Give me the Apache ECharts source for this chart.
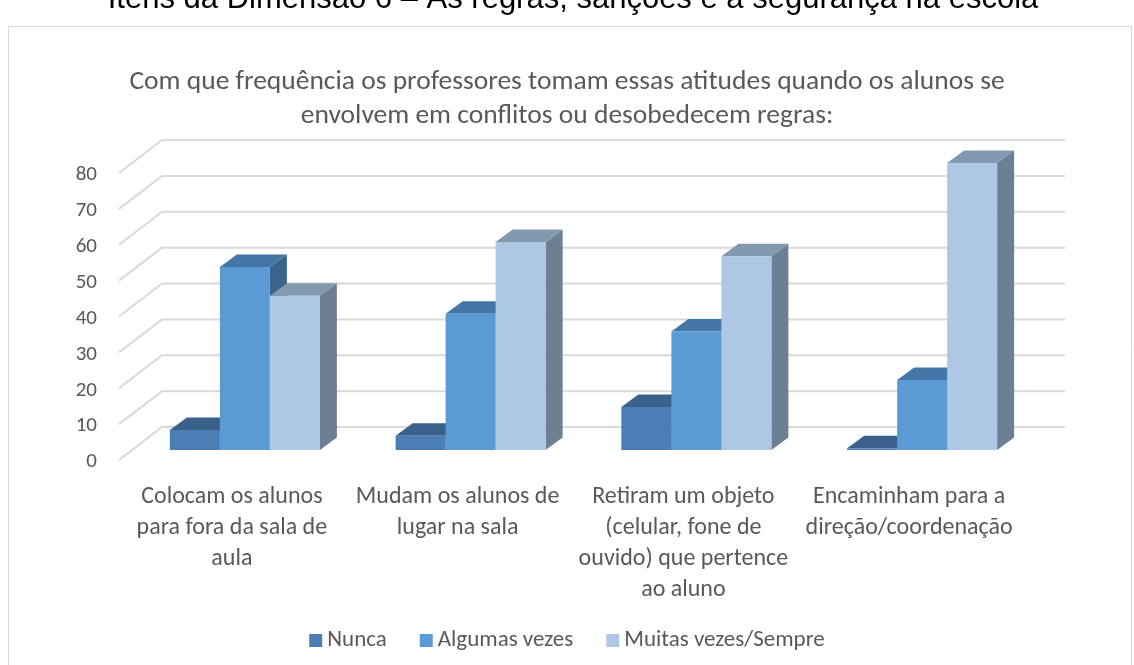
<!DOCTYPE html>
<html>
<head>
<meta charset="utf-8">
<title>Atitudes dos professores</title>
<script src="https://cdn.jsdelivr.net/npm/echarts@6/dist/echarts.min.js"></script>
<style>
  html, body { margin: 0; padding: 0; background: #fff; }
  #main { width: 1134px; height: 665px; }
</style>
</head>
<body>
<div id="main"></div>
<script>
// dados
var categories = [
  'Colocam os alunos\npara fora da sala de\naula',
  'Mudam os alunos de\nlugar na sala',
  'Retiram um objeto\n(celular, fone de\nouvido) que pertence\nao aluno',
  'Encaminham para a\ndireção/coordenação'
];
var seriesNames = ['Nunca', 'Algumas vezes', 'Muitas vezes/Sempre'];
var nunca = [5.6, 4, 12, 0.5];
var algumas = [51, 38, 33, 19.5];
var muitas = [43, 58, 54, 80];
var yTicks = [0, 10, 20, 30, 40, 50, 60, 70, 80];

var colors = [
  { front: '#4a7eb4', top: '#39618a', side: '#2f5075' },
  { front: '#5b9bd5', top: '#4577a6', side: '#3a648b' },
  { front: '#aec7e5', top: '#8399b0', side: '#6d7f92' }
];
var font = 'Carlito, Lato, sans-serif';
var textColor = '#595959';

// profundidade do efeito 3D (px)
var barDx = 17, barDy = -12.5;   // profundidade da barra
var frontDx = -13, frontDy = 10; // borda da frente do piso
var backDx = 30, backDy = -23;   // parede do fundo

function barItem(k) {
  return function (params, api) {
    var cat = api.value(0);
    var base = api.coord([cat, 0]);
    var top = api.coord([cat, api.value(1)]);
    var band = api.size([1, 0])[0];
    var w = band * 0.2215;
    var x0 = base[0] + (k - 1.5) * w;
    var x1 = x0 + w;
    var y0 = base[1], y1 = top[1];
    var c = colors[k];
    return {
      type: 'group',
      children: [
        { type: 'polygon', shape: { points: [[x1, y0], [x1 + barDx, y0 + barDy], [x1 + barDx, y1 + barDy], [x1, y1]] }, style: { fill: c.side } },
        { type: 'polygon', shape: { points: [[x0, y1], [x1, y1], [x1 + barDx, y1 + barDy], [x0 + barDx, y1 + barDy]] }, style: { fill: c.top } },
        { type: 'rect', shape: { x: x0, y: y1, width: w, height: y0 - y1 }, style: { fill: c.front } }
      ]
    };
  };
}

function wallItem(params, api) {
  var y = api.coord([0, api.value(1)])[1];
  var xl = params.coordSys.x, xr = params.coordSys.x + params.coordSys.width;
  return {
    type: 'polyline',
    shape: { points: [[xl + frontDx, y + frontDy], [xl + backDx, y + backDy], [xr + backDx, y + backDy]] },
    style: { stroke: '#d9d9d9', lineWidth: 2, fill: null }
  };
}

var chartDom = document.getElementById('main');
var myChart = echarts.init(chartDom);

var seriesData = [nunca, algumas, muitas];
var series = [{
  type: 'custom',
  silent: true,
  z: 1,
  renderItem: wallItem,
  data: yTicks.map(function (v) { return [0, v]; })
}];
seriesData.forEach(function (vals, k) {
  series.push({
    name: seriesNames[k],
    type: 'custom',
    silent: true,
    z: 2,
    itemStyle: { color: colors[k].front },
    renderItem: barItem(k),
    encode: { x: 0, y: 1 },
    data: vals.map(function (v, i) { return [i, v]; })
  });
});

var option = {
  animation: false,
  title: {
    text: 'Com que frequência os professores tomam essas atitudes quando os alunos se\nenvolvem em conflitos ou desobedecem regras:',
    left: 'center',
    top: 60,
    textStyle: { fontFamily: font, fontSize: 27.5, fontWeight: 'normal', color: textColor, lineHeight: 34 }
  },
  graphic: [
    {
      type: 'text',
      x: 573,
      y: -1,
      style: {
        text: 'Itens da Dimensão 6 – As regras, sanções e a segurança na escola',
        font: '31px "Liberation Sans", Arial, sans-serif',
        fill: '#000',
        align: 'center',
        verticalAlign: 'middle'
      }
    },
    {
      type: 'rect',
      shape: { x: 8.5, y: 26.5, width: 1123, height: 700 },
      style: { fill: null, stroke: '#d9d9d9', lineWidth: 1 },
      z: -1
    }
  ],
  legend: {
    data: seriesNames,
    top: 624,
    left: 'center',
    icon: 'rect',
    itemWidth: 13,
    itemHeight: 13,
    itemGap: 33,
    textStyle: { fontFamily: font, fontSize: 23, color: textColor }
  },
  grid: { left: 132, right: 99, top: 163, bottom: 215, containLabel: false },
  xAxis: {
    type: 'category',
    data: categories,
    axisLine: { show: false },
    axisTick: { show: false },
    axisLabel: {
      interval: 0,
      margin: 31,
      padding: [0, 26, 0, 0],
      fontFamily: font,
      fontSize: 24,
      lineHeight: 31,
      color: textColor
    }
  },
  yAxis: {
    type: 'value',
    min: 0,
    max: 80,
    interval: 10,
    splitLine: { show: false },
    axisLine: { show: false },
    axisTick: { show: false },
    axisLabel: {
      margin: 35,
      verticalAlign: 'top',
      lineHeight: 24,
      fontFamily: font,
      fontSize: 21,
      color: textColor
    }
  },
  series: series
};

option && myChart.setOption(option);
</script>
</body>
</html>
